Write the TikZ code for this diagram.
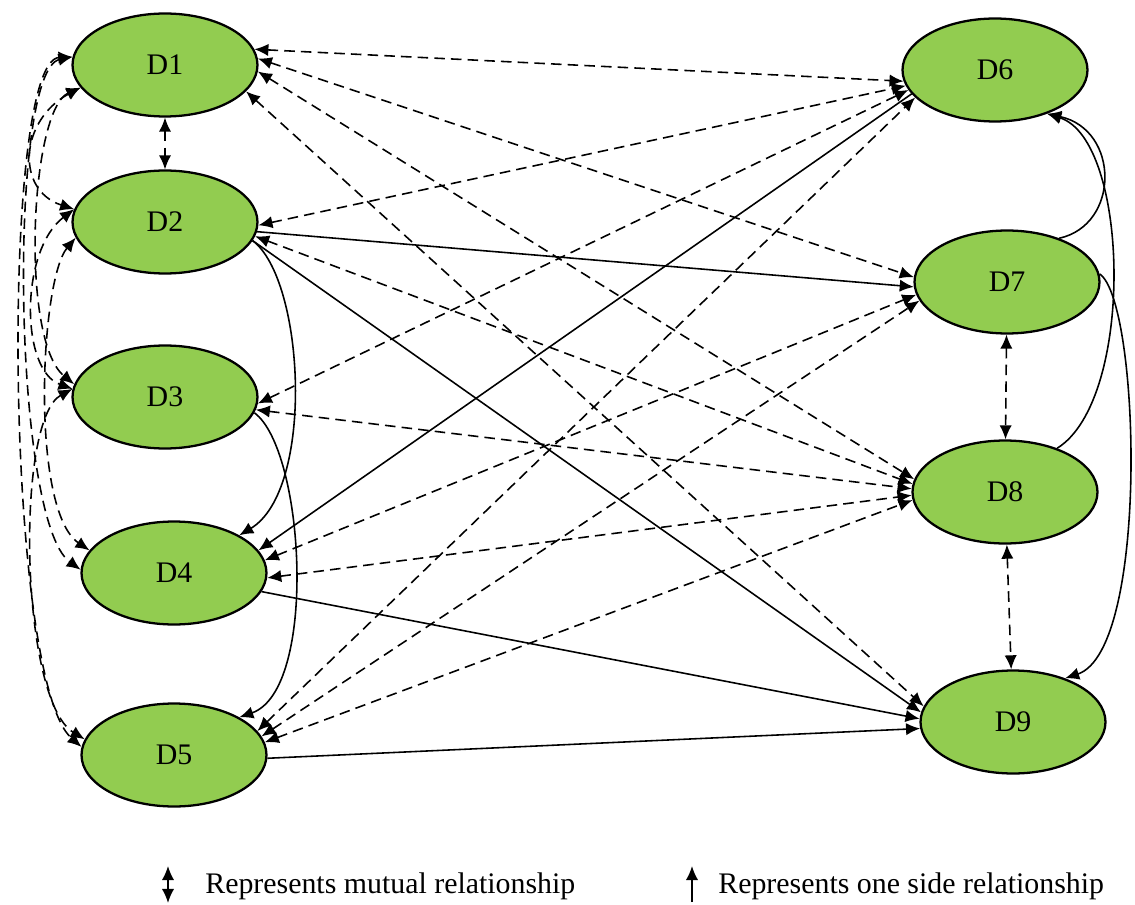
\documentclass[tikz,border=0pt]{standalone}
\usepackage{fontspec}
\setmainfont{Liberation Serif}
\usetikzlibrary{shapes.geometric,arrows.meta}
\definecolor{leafgreen}{RGB}{146,204,80}
\begin{document}
\begin{tikzpicture}[x=0.02cm,y=-0.02cm,
 dnode/.style={ellipse,draw,line width=1.3pt,fill=leafgreen,minimum width=3.7cm,minimum height=2.06cm,inner sep=0pt,font=\fontsize{17}{20}\selectfont},
 mut/.style={line width=0.9pt,dash pattern=on 6pt off 3.5pt,{Latex[length=8pt,width=7pt]}-{Latex[length=8pt,width=7pt]}},
 one/.style={line width=0.9pt,-{Latex[length=8pt,width=7pt]}},
 legtext/.style={anchor=base west,inner sep=0pt,font=\fontsize{17}{20}\selectfont}]
\useasboundingbox (0,0) rectangle (1135,905);
\node [dnode] (D1) at (165,65) {D1};
\node [dnode] (D2) at (165,222) {D2};
\node [dnode] (D3) at (165,397) {D3};
\node [dnode] (D4) at (174,573) {D4};
\node [dnode] (D5) at (174,755) {D5};
\node [dnode] (D6) at (995,70) {D6};
\node [dnode] (D7) at (1007,282) {D7};
\node [dnode] (D8) at (1005,492) {D8};
\node [dnode] (D9) at (1013,722) {D9};
\draw [mut] (D1.south) -- (D2.north);
\draw [mut] (D7) -- (D8); \draw [mut] (D8) -- (D9);
\draw [mut] (D1.10) -- (D6.187); \draw [mut] (D1.4) -- (D7.177);
\draw [mut] (D1.-4) -- (D8.172); \draw [mut] (D1.-18) -- (D9.170);
\draw [mut] (D2.-2) -- (D6.190); \draw [one] (D2.-6) -- (D7.183);
\draw [mut] (D2.-9) -- (D8.175); \draw [one] (D2.-12) -- (D9.174);
\draw [mut] (D3.-4) -- (D6.193); \draw [mut] (D3.-8) -- (D8.178);
\draw [one] (D6.196) -- (D4.15); \draw [mut] (D4.8) -- (D7.188);
\draw [mut] (D4.-3) -- (D8.182); \draw [one] (D4.-12) -- (D9.178);
\draw [mut] (D5.16) -- (D6.199); \draw [mut] (D5.12) -- (D7.192);
\draw [mut] (D5.8) -- (D8.185); \draw [one] (D5.-2) -- (D9.184);
\draw [mut] (D1.175) .. controls (0,60) and (5,680) .. (D5.175);
\draw [mut] (D1.175) .. controls (8,70) and (12,520) .. (D4.178);
\draw [mut] (D1.195) .. controls (30,110) and (20,340) .. (D3.172);
\draw [mut] (D1.195) .. controls (20,120) and (15,190) .. (D2.172);
\draw [mut] (D2.172) .. controls (20,250) and (20,370) .. (D3.175);
\draw [mut] (D2.190) .. controls (40,280) and (30,510) .. (D4.165);
\draw [mut] (D3.175) .. controls (15,420) and (20,700) .. (D5.170);
\draw [one] (D2.-12) .. controls (305,280) and (315,490) .. (D4.30);
\draw [one] (D3.-10) .. controls (305,450) and (318,690) .. (D5.30);
\draw [one] (D7.40) .. controls (1120,225) and (1120,130) .. (D6.-40);
\draw [one] (D8.40) .. controls (1135,400) and (1130,140) .. (D6.-40);
\draw [one] (D7.5) .. controls (1140,300) and (1150,650) .. (D9.40);
\coordinate (mt) at (168,866); \coordinate (mb) at (168,903);
\draw [mut] (mb) -- (mt);
\coordinate (ot) at (692,866); \coordinate (ob) at (692,902);
\draw [one] (ob) -- (ot);
\node [legtext] (lmut) at (205,893) {Represents mutual relationship};
\node [legtext] (lone) at (718,893) {Represents one side relationship};
\end{tikzpicture}
\end{document}
